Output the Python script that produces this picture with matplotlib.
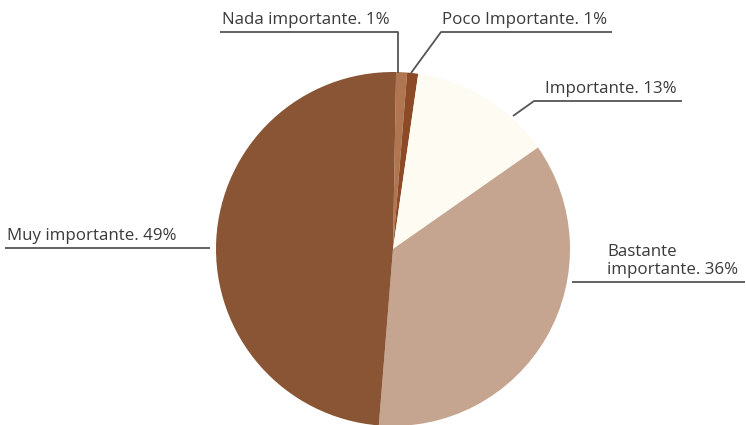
import matplotlib
matplotlib.use("Agg")
import matplotlib.pyplot as plt

# Importance ratings (percent), in clockwise order starting near 12 o'clock
categories = ["Nada importante", "Poco Importante", "Importante",
              "Bastante importante", "Muy importante"]
values = [1, 1, 13, 36, 49]
labels = ["Nada importante. 1%", "Poco Importante. 1%", "Importante. 13%",
          "Bastante\nimportante. 36%", "Muy importante. 49%"]
colors = ["#B07651", "#8C4A26", "#FEFBF3", "#C5A590", "#8A5535"]

W, H = 746, 425
fig = plt.figure(figsize=(W / 100, H / 100), dpi=100)
ax = fig.add_axes([0, 0, 1, 1])

cx, cy, r = 393, H - 249, 177
ax.pie(values, colors=colors, startangle=89, counterclock=False,
       center=(cx, cy), radius=r, frame=True,
       wedgeprops=dict(linewidth=0))
ax.set_xlim(0, W)
ax.set_ylim(0, H)
ax.set_aspect("equal")
ax.axis("off")

txt = dict(family="Open Sans", fontsize=12.2, color="#3a3a3a")
line = dict(color="#555555", lw=1.3, solid_capstyle="butt")


def Y(y):
    return H - y


# Nada importante
ax.plot([220, 398, 398], [Y(32), Y(32), Y(73)], **line)
ax.text(222, Y(28), labels[0], ha="left", va="bottom", **txt)
# Poco Importante
ax.plot([411, 441, 612], [Y(73), Y(32), Y(32)], **line)
ax.text(442, Y(28), labels[1], ha="left", va="bottom", **txt)
# Importante
ax.plot([513, 534, 682], [Y(116), Y(101), Y(101)], **line)
ax.text(545, Y(97), labels[2], ha="left", va="bottom", **txt)
# Bastante importante
ax.plot([572, 745], [Y(282), Y(282)], **line)
ax.text(607, Y(278), labels[3], ha="left", va="bottom",
        linespacing=1.2, **txt)
# Muy importante
ax.plot([5, 210], [Y(248), Y(248)], **line)
ax.text(7, Y(244), labels[4], ha="left", va="bottom", **txt)

fig.savefig("out.png", dpi=100, facecolor="white")
